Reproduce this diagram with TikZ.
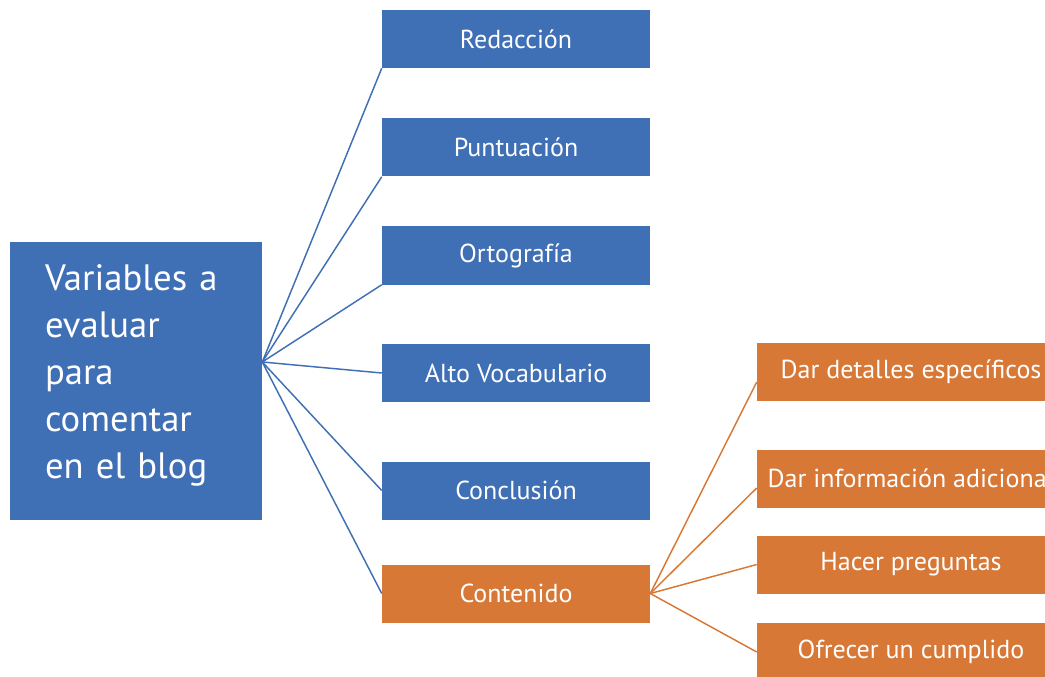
\documentclass[tikz,border=0pt]{standalone}
\usepackage{fontspec}
\setmainfont{PT Sans}
\usetikzlibrary{positioning,calc}
\definecolor{boxblue}{RGB}{63,111,181}
\definecolor{boxorange}{RGB}{215,120,54}
\tikzset{
item/.style={fill=boxblue, text=white, minimum width=201pt, minimum height=43.5pt, inner sep=0pt, font=\fontsize{19.5}{22}\selectfont}, % blue boxes
detail/.style={item, fill=boxorange, minimum width=231pt}, % orange boxes
link/.style={draw=boxblue, line width=1.1pt},
sublink/.style={draw=boxorange, line width=1.1pt},
}

\begin{document}
\begin{tikzpicture}[x=0.75pt,y=0.75pt,yscale=-1,xscale=1]
\clip (0,0) rectangle (1045,677);
%Main box
\node[fill=boxblue, text=white, minimum width=189pt, minimum height=208.5pt, text width=136.5pt, align=left, inner xsep=26.25pt, inner ysep=0pt, font=\fontsize{27.5}{35.3}\selectfont] (main) at (136,381) {Variables a\\evaluar\\para\\comentar\\en el blog\rule[-14pt]{0pt}{1pt}};
%Blue boxes
\node[item] (red) at (516,39) {Redacción};
\node[item] (pun) at (516,147.5) {Puntuación};
\node[item] (ort) at (516,255.5) {Ortografía};
\node[item] (voc) at (516,373) {Alto Vocabulario};
\node[item] (con) at (516,490.5) {Conclusión};
\node[item, fill=boxorange] (cont) at (516,593.5) {Contenido};
%Orange boxes
\node[detail] (det) at (911,372) {Dar detalles específicos};
\node[detail] (inf) at (911,478.5) {Dar información adicional};
\node[detail] (pre) at (911,564.5) {Hacer preguntas};
\node[detail] (cum) at (911,652) {Ofrecer un cumplido};
%Lines
\coordinate (hub) at ($(main.east)+(0,-19)$);
\draw[link] (hub) -- (red.south west);
\draw[link] (hub) -- (pun.south west);
\draw[link] (hub) -- (ort.south west);
\draw[link] (hub) -- (voc.west);
\draw[link] (hub) -- (con.west);
\draw[link] (hub) -- (cont.west);
\draw[sublink] (cont.east) -- ($(det.west)+(0,10)$);
\draw[sublink] (cont.east) -- ($(inf.west)+(0,9.5)$);
\draw[sublink] (cont.east) -- (pre.west);
\draw[sublink] (cont.east) -- (cum.west);
\end{tikzpicture}
\end{document}
